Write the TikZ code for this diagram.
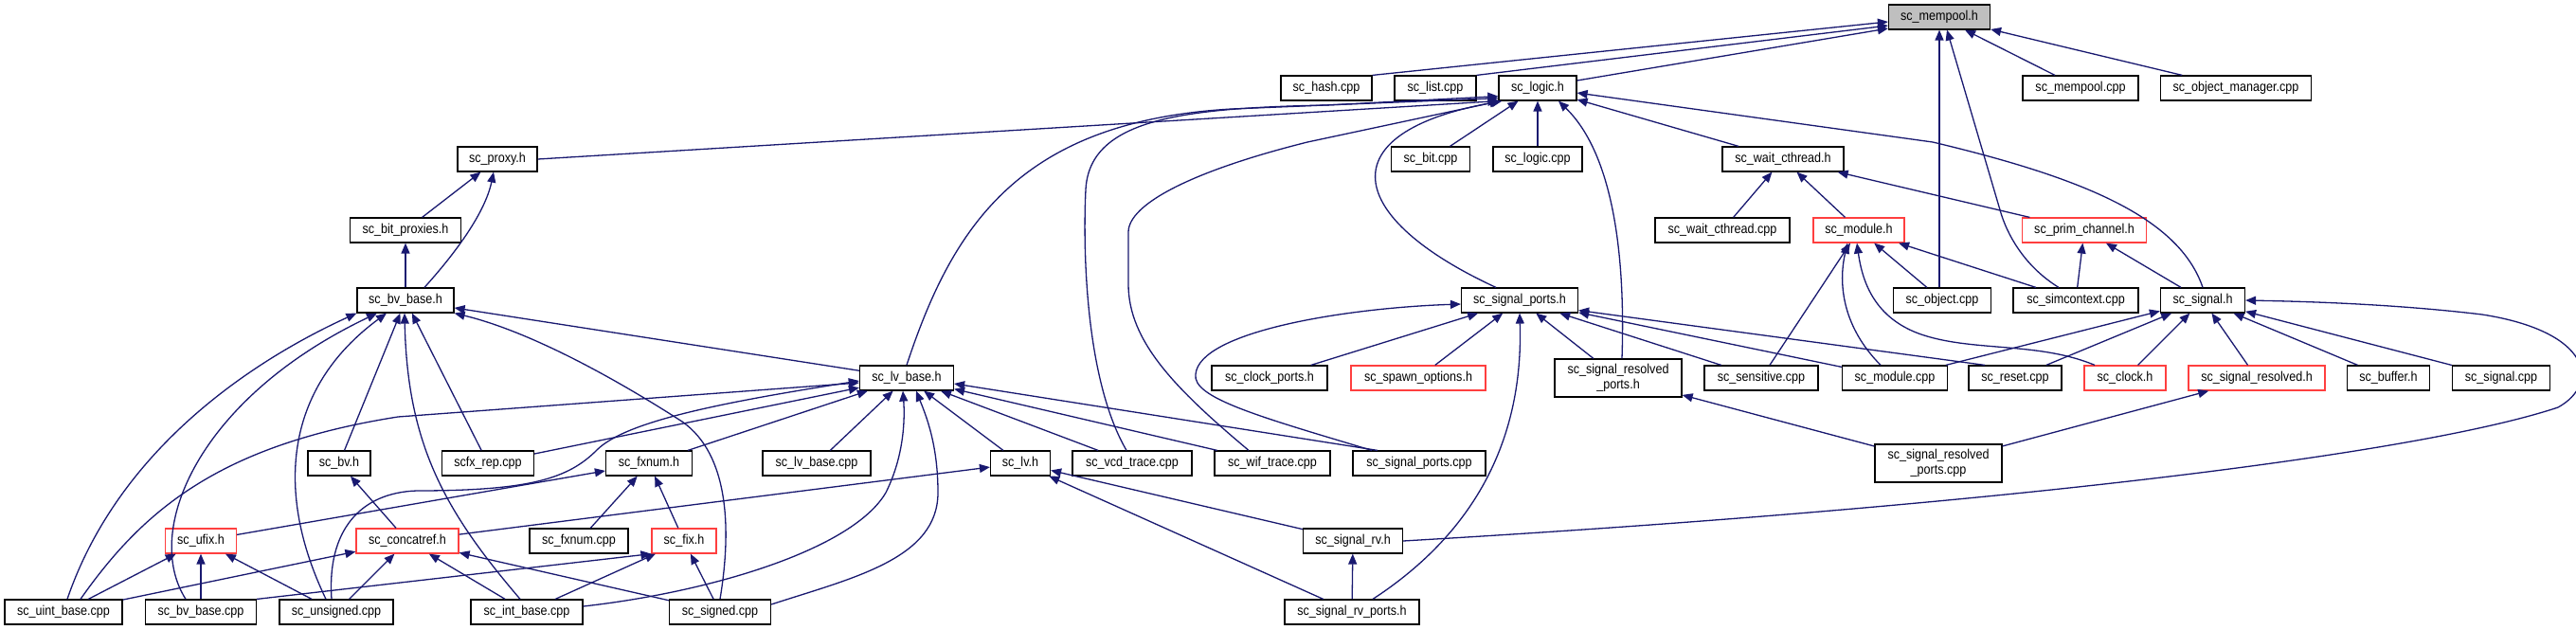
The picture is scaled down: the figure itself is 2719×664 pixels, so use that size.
\documentclass[tikz,border=0pt]{standalone}
\usepackage{fontspec}
\setmainfont{Liberation Sans}[FakeStretch=0.88]
\usetikzlibrary{arrows.meta}
\definecolor{edgec}{HTML}{191970}
\definecolor{redb}{HTML}{FF3F3F}
\definecolor{greyf}{HTML}{BFBFBF}
\tikzset{
  box/.style={draw=black, line width=1.2pt, fill=white, inner sep=0pt, minimum height=26pt,
    font=\fontsize{14.3}{15.5}\selectfont, align=center},
  redbox/.style={box, draw=redb},
  greybox/.style={box, fill=greyf},
  edg/.style={draw=edgec, line width=1.3pt, -{Triangle[length=11pt,width=9pt]}},
}
\begin{document}
\begin{tikzpicture}[x=1pt,y=-1pt]
\useasboundingbox (0,0) rectangle (2719,664);
\fill[white] (0,0) rectangle (2719,664);
% row 0
\node[greybox, minimum width=107pt] (mempoolh) at (2047,18) {sc\_mempool.h};
% row 1
\node[box, minimum width=96pt] (hashcpp) at (1400,93) {sc\_hash.cpp};
\node[box, minimum width=86pt] (listcpp) at (1515,93) {sc\_list.cpp};
\node[box, minimum width=82pt] (logich) at (1623,93) {sc\_logic.h};
\node[box, minimum width=122pt] (mempoolcpp) at (2196,93) {sc\_mempool.cpp};
\node[box, minimum width=159pt] (objmgrcpp) at (2360,93) {sc\_object\_manager.cpp};
% row 2
\node[box, minimum width=84pt] (proxyh) at (525,168) {sc\_proxy.h};
\node[box, minimum width=83pt] (bitcpp) at (1510,168) {sc\_bit.cpp};
\node[box, minimum width=94pt] (logiccpp) at (1623,168) {sc\_logic.cpp};
\node[box, minimum width=128pt] (waitch) at (1882,168) {sc\_wait\_cthread.h};
% row 3
\node[box, minimum width=117pt] (bitproxh) at (428,243) {sc\_bit\_proxies.h};
\node[box, minimum width=142pt] (waitccpp) at (1818,243) {sc\_wait\_cthread.cpp};
\node[redbox, minimum width=96pt] (moduleh) at (1962,243) {sc\_module.h};
\node[redbox, minimum width=131pt] (primch) at (2200,243) {sc\_prim\_channel.h};
% row 4
\node[box, minimum width=102pt] (bvbaseh) at (428,317) {sc\_bv\_base.h};
\node[box, minimum width=123pt] (sigportsh) at (1604,317) {sc\_signal\_ports.h};
\node[box, minimum width=103pt] (objectcpp) at (2050,317) {sc\_object.cpp};
\node[box, minimum width=132pt] (simctxcpp) at (2191,317) {sc\_simcontext.cpp};
\node[box, minimum width=89pt] (signalh) at (2325,317) {sc\_signal.h};
% row 5
\node[box, minimum width=99pt] (lvbaseh) at (957,399) {sc\_lv\_base.h};
\node[box, minimum width=122pt] (clockportsh) at (1340,399) {sc\_clock\_ports.h};
\node[redbox, minimum width=142pt] (spawnh) at (1497,399) {sc\_spawn\_options.h};
\node[box, minimum width=134pt, minimum height=40pt] (sigresportsh) at (1708,399) {sc\_signal\_resolved\\\_ports.h};
\node[box, minimum width=120pt] (sensitivecpp) at (1859,399) {sc\_sensitive.cpp};
\node[box, minimum width=111pt] (modulecpp) at (2000,399) {sc\_module.cpp};
\node[box, minimum width=98pt] (resetcpp) at (2127,399) {sc\_reset.cpp};
\node[redbox, minimum width=86pt] (clockh) at (2243,399) {sc\_clock.h};
\node[redbox, minimum width=144pt] (sigresh) at (2382,399) {sc\_signal\_resolved.h};
\node[box, minimum width=87pt] (bufferh) at (2521,399) {sc\_buffer.h};
\node[box, minimum width=103pt] (signalcpp) at (2640,399) {sc\_signal.cpp};
% row 6
\node[box, minimum width=66pt] (bvh) at (358,489) {sc\_bv.h};
\node[box, minimum width=97pt] (scfxrepcpp) at (515,489) {scfx\_rep.cpp};
\node[box, minimum width=91pt] (fxnumh) at (685,489) {sc\_fxnum.h};
\node[box, minimum width=114pt] (lvbasecpp) at (862,489) {sc\_lv\_base.cpp};
\node[box, minimum width=63pt] (lvh) at (1077,489) {sc\_lv.h};
\node[box, minimum width=126pt] (vcdcpp) at (1195,489) {sc\_vcd\_trace.cpp};
\node[box, minimum width=122pt] (wifcpp) at (1343,489) {sc\_wif\_trace.cpp};
\node[box, minimum width=140pt] (sigportscpp) at (1498,489) {sc\_signal\_ports.cpp};
\node[box, minimum width=134pt, minimum height=40pt] (sigresportscpp) at (2046,489) {sc\_signal\_resolved\\\_ports.cpp};
% row 7
\node[redbox, minimum width=75pt] (ufixh) at (212,571) {sc\_ufix.h};
\node[redbox, minimum width=108pt] (concath) at (430,571) {sc\_concatref.h};
\node[box, minimum width=104pt] (fxnumcpp) at (611,571) {sc\_fxnum.cpp};
\node[redbox, minimum width=68pt] (fixh) at (722,571) {sc\_fix.h};
\node[box, minimum width=105pt] (sigrvh) at (1428,571) {sc\_signal\_rv.h};
% row 8
\node[box, minimum width=124pt] (uintcpp) at (67,646) {sc\_uint\_base.cpp};
\node[box, minimum width=117pt] (bvbasecpp) at (212,646) {sc\_bv\_base.cpp};
\node[box, minimum width=120pt] (unsignedcpp) at (355,646) {sc\_unsigned.cpp};
\node[box, minimum width=118pt] (intbasecpp) at (556,646) {sc\_int\_base.cpp};
\node[box, minimum width=107pt] (signedcpp) at (760,646) {sc\_signed.cpp};
\node[box, minimum width=142pt] (sigrvportsh) at (1427,646) {sc\_signal\_rv\_ports.h};

% ---- edges to sc_mempool.h
\draw[edg] (hashcpp.north east) -- ([yshift=-5pt]mempoolh.west);
\draw[edg] (listcpp.north east) -- ([yshift=-9pt]mempoolh.west);
\draw[edg] ([yshift=8pt]logich.east) -- ([yshift=-12pt]mempoolh.west);
\draw[edg] (mempoolcpp) -- (mempoolh);
\draw[edg] (objmgrcpp) -- (mempoolh);
\draw[edg] ([xshift=-3pt]objectcpp.north) -- (mempoolh.south);
\draw[edg] ([xshift=-18pt]simctxcpp.north) .. controls (2135,280) and (2118,245) .. (2112,225) -- ([xshift=8pt]mempoolh.south);
% ---- edges to sc_logic.h
\draw[edg] (proxyh.east) -- (logich.south west);
\draw[edg] (lvbaseh.north) .. controls (1005,240) and (1075,128) .. (1300,115) -- ([yshift=3pt]logich.south west);
\draw[edg] ([xshift=-6pt]vcdcpp.north) .. controls (1145,400) and (1143,260) .. (1146,200) .. controls (1150,125) and (1250,114) .. (1400,111) -- ([yshift=5pt]logich.south west);
\draw[edg] ([xshift=-25pt]wifcpp.north) .. controls (1240,410) and (1191,360) .. (1191,300) -- (1191,245) .. controls (1191,215) and (1260,180) .. (1380,150) -- ([xshift=2pt]logich.south west);
\draw[edg] (bitcpp) -- (logich);
\draw[edg] (logiccpp) -- (logich);
\draw[edg] (waitch) -- (logich);
\draw[edg] ([xshift=-25pt]sigportsh.north) .. controls (1420,230) and (1400,140) .. ([xshift=4pt]logich.south west);
\draw[edg] ([xshift=4pt]sigresportsh.north) .. controls (1716,260) and (1700,160) .. ([xshift=22pt]logich.south);
\draw[edg] (signalh.north) .. controls (2300,230) and (2200,188) .. (2040,150) -- ([yshift=-5pt]logich.east);
% ---- proxy
\draw[edg] (bitproxh) -- (proxyh);
\draw[edg] ([xshift=20pt]bvbaseh.north) .. controls (480,268) and (512,225) .. ([xshift=-4pt]proxyh.south);
\draw[edg] (bvbaseh) -- (bitproxh);
% ---- bv_base.h
\draw[edg] ([xshift=4pt]uintcpp.north) .. controls (130,460) and (290,370) .. (bvbaseh.south west);
\draw[edg] ([xshift=-16pt]bvbasecpp.north) .. controls (150,560) and (210,420) .. ([xshift=-30pt]bvbaseh.south);
\draw[edg] ([xshift=-11pt]unsignedcpp.north) .. controls (290,520) and (300,410) .. ([xshift=-20pt]bvbaseh.south);
\draw[edg] (bvh) -- (bvbaseh);
\draw[edg] ([xshift=-7pt]intbasecpp.north) .. controls (470,540) and (430,470) .. ([xshift=-1pt]bvbaseh.south);
\draw[edg] (scfxrepcpp) -- (bvbaseh);
\draw[edg] (signedcpp.north) .. controls (772,560) and (770,480) .. (720,445) .. controls (650,400) and (560,350) .. (bvbaseh.south east);
\draw[edg] (lvbaseh) -- (bvbaseh);
% ---- lv_base.h
\draw[edg] ([xshift=18pt]uintcpp.north) .. controls (150,540) and (230,470) .. (420,440) -- ([yshift=-5pt]lvbaseh.west);
\draw[edg] ([xshift=-5pt]unsignedcpp.north) .. controls (345,560) and (380,520) .. (440,518) .. controls (560,518) and (600,505) .. (630,475) .. controls (660,445) and (760,425) .. ([yshift=-3pt]lvbaseh.west);
\draw[edg] (scfxrepcpp) -- (lvbaseh);
\draw[edg] (fxnumh) -- (lvbaseh);
\draw[edg] (lvbasecpp) -- (lvbaseh);
\draw[edg] ([yshift=6pt]intbasecpp.east) .. controls (750,625) and (900,580) .. (935,520) .. controls (955,480) and (955,440) .. ([xshift=-4pt]lvbaseh.south);
\draw[edg] ([yshift=8pt]signedcpp.east) .. controls (900,610) and (990,590) .. (990,520) .. controls (990,470) and (978,440) .. ([xshift=10pt]lvbaseh.south);
\draw[edg] (lvh) -- (lvbaseh);
\draw[edg] (vcdcpp) -- (lvbaseh);
\draw[edg] (wifcpp) -- (lvbaseh);
\draw[edg] ([xshift=-44pt]sigportscpp.north) -- ([yshift=-6pt]lvbaseh.east);
% ---- fxnum, bv, ufix, concatref, fix
\draw[edg] (ufixh) -- (fxnumh);
\draw[edg] (fxnumcpp) -- (fxnumh);
\draw[edg] (fixh) -- (fxnumh);
\draw[edg] (concath) -- (bvh);
\draw[edg] (concath) -- (lvh);
\draw[edg] (uintcpp) -- (ufixh);
\draw[edg] (bvbasecpp) -- (ufixh);
\draw[edg] (unsignedcpp) -- (ufixh);
\draw[edg] (uintcpp) -- (concath);
\draw[edg] (unsignedcpp) -- (concath);
\draw[edg] (intbasecpp) -- (concath);
\draw[edg] (signedcpp) -- (concath);
\draw[edg] (bvbasecpp.north east) -- (fixh.south west);
\draw[edg] (intbasecpp) -- (fixh);
\draw[edg] (signedcpp) -- (fixh);
% ---- lv.h, signal_rv
\draw[edg] (sigrvh) -- (lvh);
\draw[edg] (sigrvportsh) -- (lvh);
\draw[edg] (sigrvportsh) -- (sigrvh);
\draw[edg] ([xshift=22pt]sigrvportsh.north) .. controls (1560,560) and (1608,460) .. (sigportsh.south);
\draw[edg] (sigrvh.east) .. controls (2100,535) and (2550,480) .. (2700,430) .. controls (2745,405) and (2735,350) .. (2620,332) .. controls (2520,320) and (2420,318) .. (signalh.east);
% ---- signal_ports.h
\draw[edg] ([xshift=-50pt]sigportscpp.north) .. controls (1330,440) and (1258,420) .. (1262,395) .. controls (1266,350) and (1420,325) .. ([yshift=-4pt]sigportsh.west);
\draw[edg] (clockportsh) -- (sigportsh);
\draw[edg] (spawnh) -- (sigportsh);
\draw[edg] (sigresportsh) -- (sigportsh);
\draw[edg] (sensitivecpp) -- (sigportsh);
\draw[edg] (modulecpp) -- (sigportsh);
\draw[edg] ([xshift=-32pt]resetcpp.north) -- ([yshift=3pt]sigportsh.south east);
% ---- module.h
\draw[edg] (sensitivecpp) -- (moduleh);
\draw[edg] ([xshift=-15pt]modulecpp.north) .. controls (1945,345) and (1940,300) .. ([xshift=-12pt]moduleh.south);
\draw[edg] ([xshift=-32pt]clockh.north) .. controls (2150,360) and (2080,372) .. (2025,352) .. controls (1980,335) and (1966,300) .. ([xshift=-2pt]moduleh.south);
\draw[edg] (objectcpp) -- (moduleh);
\draw[edg] (simctxcpp) -- (moduleh);
% ---- wait_cthread.h, prim_channel.h
\draw[edg] (moduleh) -- (waitch);
\draw[edg] (waitccpp) -- (waitch);
\draw[edg] (primch) -- (waitch);
\draw[edg] (simctxcpp) -- (primch);
\draw[edg] (signalh) -- (primch);
% ---- signal.h
\draw[edg] (modulecpp) -- (signalh);
\draw[edg] (resetcpp) -- (signalh);
\draw[edg] (clockh) -- (signalh);
\draw[edg] (sigresh) -- (signalh);
\draw[edg] (bufferh) -- (signalh);
\draw[edg] (signalcpp) -- (signalh);
% ---- resolved
\draw[edg] (sigresportscpp) -- (sigresh);
\draw[edg] (sigresportscpp) -- (sigresportsh);
\end{tikzpicture}
\end{document}
